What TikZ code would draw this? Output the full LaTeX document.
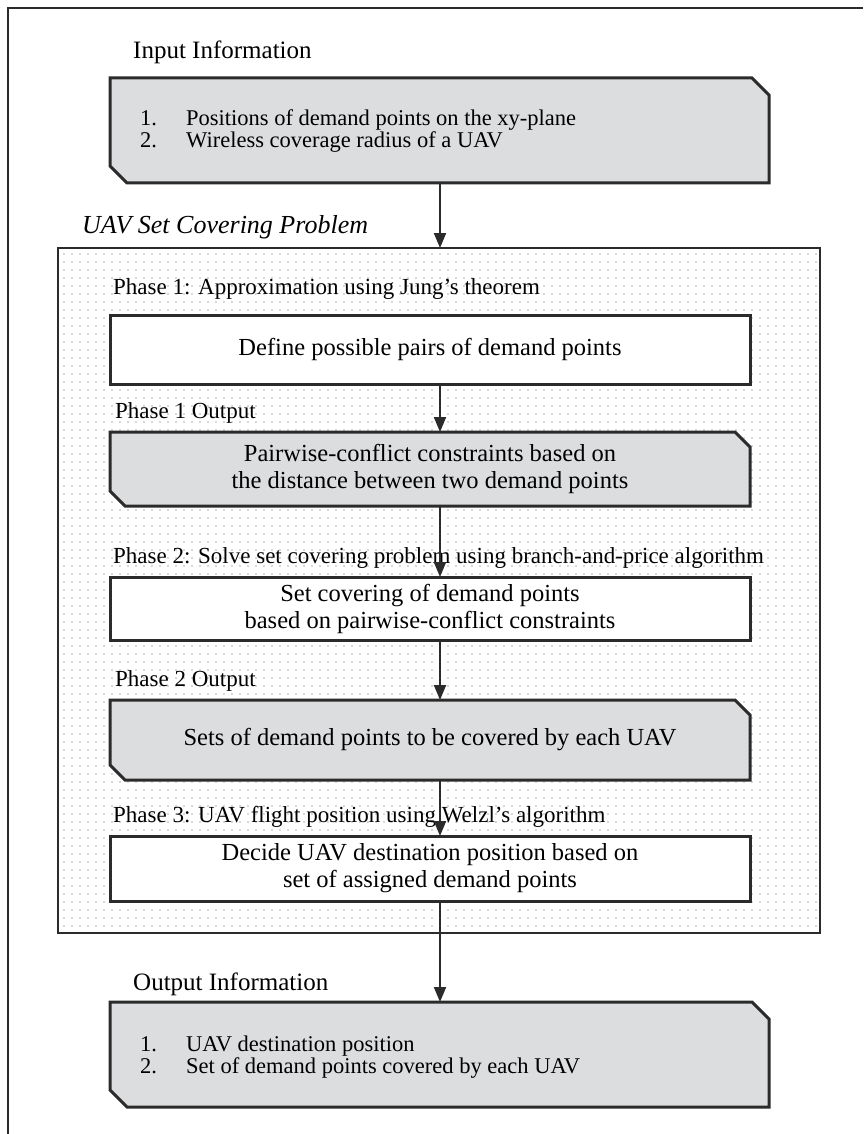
\documentclass[tikz,border=0pt]{standalone}
\usepackage{fontspec}
\setmainfont{Liberation Serif}
\usetikzlibrary{arrows.meta,calc,patterns.meta}
\definecolor{boxgray}{HTML}{DCDDDF}
\definecolor{linegray}{HTML}{2B2B2B}
\definecolor{dotgray}{HTML}{B0B0B0}
\newcommand{\chamferbox}[2]{%
  \filldraw[fill=boxgray,draw=linegray,line width=3pt,line join=miter]
    (#1.north west) -- ($(#1.north east)+(-#2,0)$) -- ($(#1.north east)+(0,#2)$)
    -- (#1.south east) -- ($(#1.south west)+(#2,0)$) -- ($(#1.south west)+(0,-#2)$) -- cycle;}
\tikzset{
  lbl/.style={anchor=base west, inner sep=0pt, font=\fontsize{23}{26}\selectfont},
  head/.style={anchor=base west, inner sep=0pt, font=\fontsize{25}{28}\selectfont},
  uavhead/.style={anchor=base west, inner sep=0pt, font=\fontsize{26}{29}\selectfont\itshape},
  boxtxt/.style={align=center, inner sep=0pt, font=\fontsize{24.5}{27}\selectfont},
  listtxt/.style={anchor=base west, inner sep=0pt, font=\fontsize{22.5}{24}\selectfont},
  geom/.style={rectangle, inner sep=0pt, outer sep=0pt},
  plainbox/.style={geom, draw=linegray, line width=3pt, fill=white},
  flow/.style={draw=linegray, line width=2pt, -{Triangle[length=15pt,width=12pt]}},
  bigframe/.style={geom, draw=linegray, line width=2.5pt,
     pattern={Dots[distance=8pt,radius=0.8pt]}, pattern color=dotgray},
}
\begin{document}
\begin{tikzpicture}[x=1pt,y=-1pt]
\useasboundingbox (0,0) rectangle (863,1134);
\draw[linegray, line width=1.5pt] (8,1134) -- (8,8) -- (863,8);
\coordinate (ax) at (440,0);

% Input
\node[head] (inlbl) at (133,59) {Input Information};
\node[geom, minimum width=659pt, minimum height=105pt] (inbox) at (439.5,130.5) {};
\chamferbox{inbox}{17}
\node[listtxt] (in1n) at (140,126) {1.};
\node[listtxt] (in1) at (186,126) {Positions of demand points on the xy-plane};
\node[listtxt] (in2n) at (140,148) {2.};
\node[listtxt] (in2) at (186,148) {Wireless coverage radius of a UAV};

% Big box
\node[uavhead] (uavlbl) at (82,233) {UAV Set Covering Problem};
\node[bigframe, minimum width=762pt, minimum height=685pt] (bigbox) at (439,590.5) {};

% Phase 1
\node[lbl] (p1lbl) at (113,294) {Phase 1: Approximation using Jung’s theorem};
\node[plainbox, minimum width=640pt, minimum height=69pt] (b1) at (430,349.5) {};
\node[boxtxt] (b1t) at (430,349.5) {Define possible pairs of demand points};

\node[lbl] (p1out) at (115,418) {Phase 1 Output};
\node[geom, minimum width=640pt, minimum height=74pt] (b2) at (430,469) {};
\chamferbox{b2}{15}
\node[boxtxt] (b2t) at (430,469) {Pairwise-conflict constraints based on\\the distance between two demand points};

% Phase 2
\node[lbl] (p2lbl) at (113,563) {Phase 2: Solve set covering problem using branch-and-price algorithm};
\node[plainbox, minimum width=640pt, minimum height=63pt] (b3) at (430,608.5) {};
\node[boxtxt] (b3t) at (430,608.5) {Set covering of demand points\\based on pairwise-conflict constraints};

\node[lbl] (p2out) at (115,686) {Phase 2 Output};
\node[geom, minimum width=640pt, minimum height=80pt] (b4) at (430,740) {};
\chamferbox{b4}{15}
\node[boxtxt] (b4t) at (430,740) {Sets of demand points to be covered by each UAV};

% Phase 3
\node[lbl] (p3lbl) at (113,822) {Phase 3: UAV flight position using Welzl’s algorithm};
\node[plainbox, minimum width=640pt, minimum height=65pt] (b5) at (430,868.5) {};
\node[boxtxt] (b5t) at (430,868.5) {Decide UAV destination position based on\\set of assigned demand points};

% Output
\node[head] (outlbl) at (133,990) {Output Information};
\node[geom, minimum width=659pt, minimum height=105pt] (outbox) at (439.5,1054.5) {};
\chamferbox{outbox}{17}
\node[listtxt] (out1n) at (140,1051) {1.};
\node[listtxt] (out1) at (186,1051) {UAV destination position};
\node[listtxt] (out2n) at (140,1073) {2.};
\node[listtxt] (out2) at (186,1073) {Set of demand points covered by each UAV};

% connectors
\draw[flow] (inbox.south -| ax) -- (bigbox.north -| ax);
\draw[flow] (b1.south -| ax) -- (b2.north -| ax);
\draw[flow] (b2.south -| ax) -- (b3.north -| ax);
\draw[flow] (b3.south -| ax) -- (b4.north -| ax);
\draw[flow] (b4.south -| ax) -- (b5.north -| ax);
\draw[flow] (b5.south -| ax) -- (outbox.north -| ax);
\end{tikzpicture}
\end{document}
